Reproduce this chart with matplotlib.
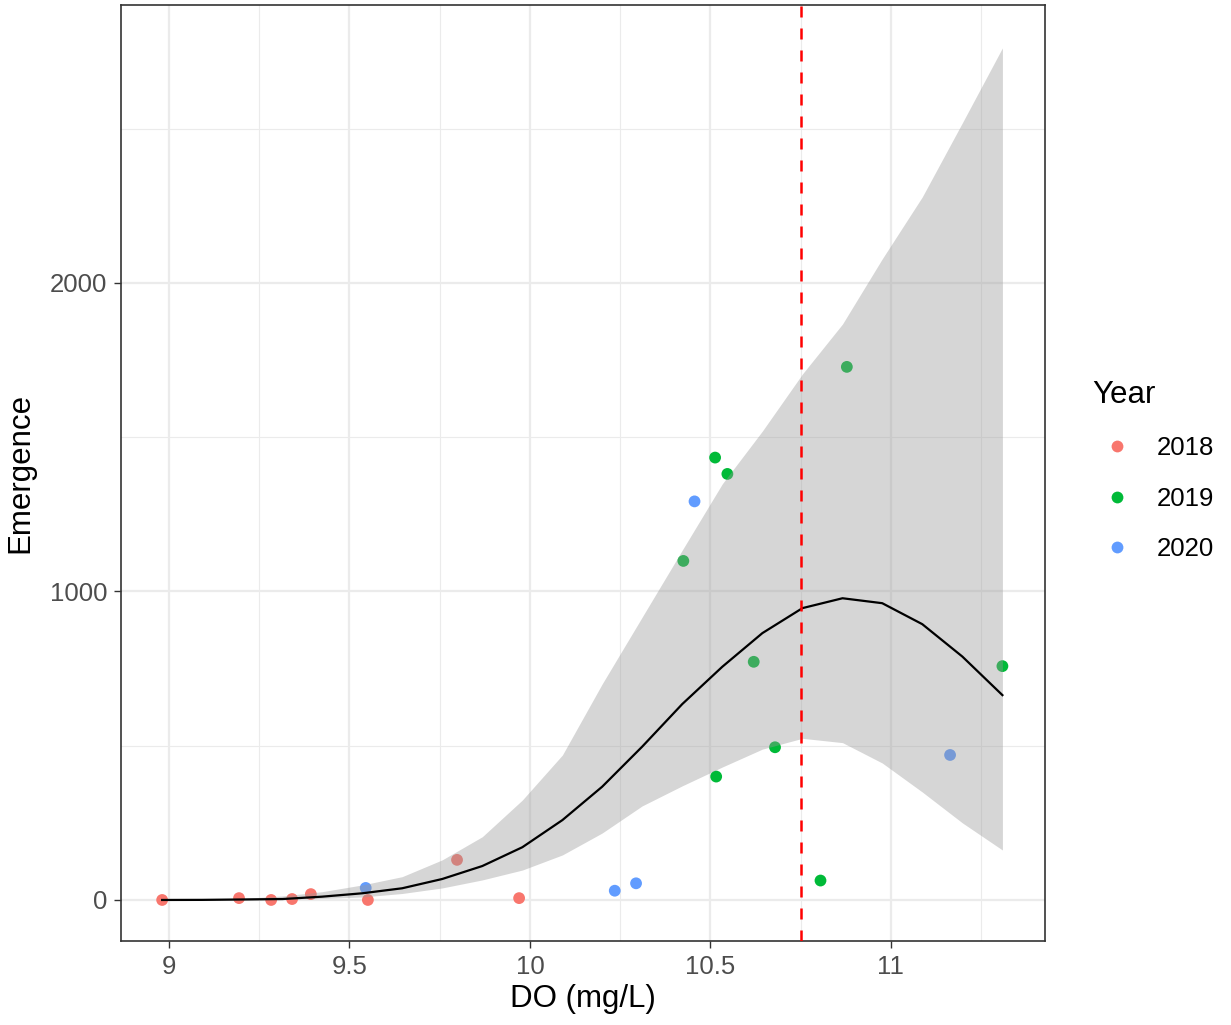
import matplotlib
matplotlib.use('Agg')
import matplotlib.pyplot as plt
from matplotlib.lines import Line2D

plt.rcParams['font.family'] = ['Liberation Sans', 'DejaVu Sans']

# ---- data ----
years = ['2018', '2019', '2020']
year_colors = ['#F8766D', '#00BA38', '#619CFF']

do_2018 = [8.981, 9.194, 9.283, 9.341, 9.393, 9.551, 9.798, 9.970]
em_2018 = [0, 6, 0, 3, 19, 0, 130, 6]
do_2019 = [10.425, 10.513, 10.516, 10.547, 10.620, 10.679, 10.805, 10.878, 11.309]
em_2019 = [1099, 1434, 400, 1381, 772, 495, 63, 1728, 758]
do_2020 = [9.545, 10.235, 10.294, 10.456, 11.164]
em_2020 = [39, 30, 54, 1292, 470]

fit_do = [8.981, 9.092, 9.203, 9.314, 9.424, 9.535, 9.646, 9.757, 9.868, 9.979, 10.090,
          10.200, 10.311, 10.422, 10.533, 10.644, 10.755, 10.866, 10.976, 11.087, 11.198, 11.309]
fit_em = [0, 0.3, 1.6, 3, 10.7, 21.6, 37.9, 68, 110, 171, 259,
          367, 497, 635, 756, 865, 946, 978, 962, 894, 789, 664]
fit_lo = [0, 0, 0, 1.6, 4.9, 9.7, 21, 39, 65, 97, 146,
          217, 305, 370, 431, 489, 524, 510, 444, 350, 250, 162]
fit_hi = [0, 1.6, 4.9, 13, 26.8, 48.6, 75.5, 130, 205, 324, 470,
          700, 917, 1134, 1349, 1520, 1705, 1867, 2078, 2279, 2519, 2762]

threshold = 10.75

x_ticks = [9, 9.5, 10, 10.5, 11]
x_labels = ['9', '9.5', '10', '10.5', '11']
y_ticks = [0, 1000, 2000]
y_labels = ['0', '1000', '2000']

# ---- figure ----
W, H = 1231, 1025
fig = plt.figure(figsize=(W / 100, H / 100), dpi=100)
ax = fig.add_axes([121 / W, 1 - 941 / H, (1045 - 121) / W, (941 - 5) / H])

grid_c = '#EBEBEB'
for v in [9.25, 9.75, 10.25, 10.75, 11.25]:
    ax.axvline(v, color=grid_c, lw=0.8, zorder=0)
for v in [500, 1500, 2500]:
    ax.axhline(v, color=grid_c, lw=0.8, zorder=0)
for v in x_ticks:
    ax.axvline(v, color=grid_c, lw=1.6, zorder=0)
for v in y_ticks:
    ax.axhline(v, color=grid_c, lw=1.6, zorder=0)

for xs, ys, c in [(do_2018, em_2018, year_colors[0]),
                  (do_2019, em_2019, year_colors[1]),
                  (do_2020, em_2020, year_colors[2])]:
    ax.scatter(xs, ys, s=72, color=c, edgecolors='none', zorder=2)

ax.fill_between(fit_do, fit_lo, fit_hi, color='#999999', alpha=0.4, lw=0, zorder=3)
ax.plot(fit_do, fit_em, color='black', lw=1.6, zorder=4)
ax.axvline(threshold, color='red', lw=1.8, linestyle=(0, (4.4, 4.4)), zorder=5)

ax.set_xlim(8.867, 11.427)
ax.set_ylim(-133, 2901)
ax.set_xticks(x_ticks)
ax.set_xticklabels(x_labels)
ax.set_yticks(y_ticks)
ax.set_yticklabels(y_labels)
ax.tick_params(axis='both', which='major', length=5, width=1, color='#333333',
               labelsize=18.5, labelcolor='#4D4D4D', pad=5)
for sp in ax.spines.values():
    sp.set_color('#333333')
    sp.set_linewidth(1.2)

ax.set_xlabel('DO (mg/L)', fontsize=22.5, labelpad=4)
ax.set_ylabel('Emergence', fontsize=22.5, labelpad=10)

handles = [Line2D([0], [0], marker='o', linestyle='none', markersize=8.5,
                  markerfacecolor=c, markeredgecolor='none') for c in year_colors]
leg = fig.legend(handles, years, title='Year', loc='upper left',
                 bbox_to_anchor=(1082 / W, 1 - 370 / H), frameon=False,
                 fontsize=18.5, title_fontsize=22.5, handletextpad=0.62,
                 labelspacing=1.02, handlelength=1.9, borderaxespad=0)
leg._legend_box.align = 'left'

fig.savefig('out.png', dpi=100)
